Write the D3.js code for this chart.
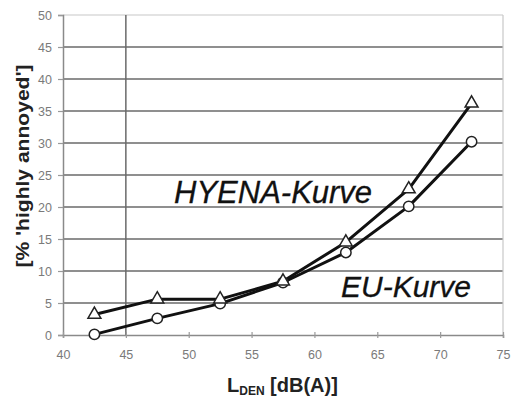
<!DOCTYPE html>
<html>
<head>
<meta charset="utf-8">
<script src="https://cdn.jsdelivr.net/npm/d3@7"></script>
<style>
  html, body { margin: 0; padding: 0; background: #fff; }
  svg { display: block; font-family: "Liberation Sans", Arial, sans-serif; }
</style>
</head>
<body>
<svg id="chart" width="513" height="400"></svg>
<script>
// Noise level classes (L_DEN mid-points)
const levels = [42.5, 47.5, 52.5, 57.5, 62.5, 67.5, 72.5];
// % highly annoyed
const hyenaValues = [3.2, 5.6, 5.6, 8.4, 14.5, 22.8, 36.2];
const euValues = [0.1, 2.6, 4.9, 8.2, 12.9, 20.1, 30.2];
const xTicks = [40, 45, 50, 55, 60, 65, 70, 75];
const yTicks = [0, 5, 10, 15, 20, 25, 30, 35, 40, 45, 50];

(function () {
const svg = d3.select("#chart");
const plotLeft = 63, plotRight = 503, plotTop = 15, plotBottom = 335;

const x = d3.scaleLinear().domain([40, 75]).range([plotLeft, plotRight]);
const y = d3.scaleLinear().domain([0, 50]).range([plotBottom, plotTop]);

// horizontal grid
svg.append("g").selectAll("line").data(yTicks.filter(d => d > 0)).join("line")
  .attr("x1", plotLeft).attr("x2", plotRight)
  .attr("y1", d => y(d)).attr("y2", d => y(d))
  .attr("stroke", d => d === 50 ? "#c8c8c8" : "#6a6a6a")
  .attr("stroke-width", d => d === 50 ? 1.2 : 1.5);

// right frame
svg.append("line").attr("x1", plotRight).attr("x2", plotRight)
  .attr("y1", plotTop).attr("y2", plotBottom)
  .attr("stroke", "#c8c8c8").attr("stroke-width", 1.2);

// 45 dB reference line
svg.append("line").attr("x1", x(45)).attr("x2", x(45)).attr("y1", y(50)).attr("y2", plotBottom)
  .attr("stroke", "#6a6a6a").attr("stroke-width", 1.5);

// axes
const yAxis = svg.append("g").attr("transform", `translate(${plotLeft},0)`)
  .call(d3.axisLeft(y).tickValues(yTicks).tickSize(5).tickPadding(6));
const xAxis = svg.append("g").attr("transform", `translate(0,${plotBottom})`)
  .call(d3.axisBottom(x).tickValues(xTicks).tickSize(3).tickPadding(12));
[yAxis, xAxis].forEach(g => {
  g.select(".domain").attr("stroke", "#8a8a8a").attr("stroke-width", 1.5);
  g.selectAll(".tick line").attr("stroke", "#9a9a9a").attr("stroke-width", 1.2);
  g.selectAll(".tick text").attr("fill", "#7a7a7a")
    .style("font-family", "'Liberation Sans', Arial, sans-serif").style("font-size", "12.5px");
});
xAxis.selectAll(".tick line").attr("y1", -3);
yAxis.selectAll(".tick text").attr("dy", "0.35em");

// curves
const line = d3.line().x(d => x(d[0])).y(d => y(d[1]));
const hyena = levels.map((l, i) => [l, hyenaValues[i]]);
const eu = levels.map((l, i) => [l, euValues[i]]);

[eu, hyena].forEach(s => {
  svg.append("path").datum(s).attr("d", line)
    .attr("fill", "none").attr("stroke", "#111").attr("stroke-width", 3)
    .attr("stroke-linejoin", "round");
});

// markers
svg.append("g").selectAll("circle").data(eu).join("circle")
  .attr("cx", d => x(d[0])).attr("cy", d => y(d[1])).attr("r", 5.2)
  .attr("fill", "#fff").attr("stroke", "#222").attr("stroke-width", 1.5);
const tri = d3.symbol().type(d3.symbolTriangle).size(72);
svg.append("g").selectAll("path").data(hyena).join("path")
  .attr("d", tri)
  .attr("transform", d => `translate(${x(d[0])},${y(d[1])})`)
  .attr("fill", "#fff").attr("stroke", "#222").attr("stroke-width", 1.5);

// curve labels
svg.append("text").attr("x", 174).attr("y", 203)
  .attr("font-style", "italic").attr("font-size", 31).attr("fill", "#111")
  .attr("stroke", "#111").attr("stroke-width", 0.3)
  .text("HYENA-Kurve");
svg.append("text").attr("x", 341).attr("y", 297)
  .attr("font-style", "italic").attr("font-size", 30).attr("fill", "#111")
  .attr("stroke", "#111").attr("stroke-width", 0.3)
  .text("EU-Kurve");

// axis titles
svg.append("text").attr("transform", "translate(29,166) rotate(-90)")
  .attr("text-anchor", "middle").attr("font-weight", "bold").attr("font-size", 19)
  .attr("textLength", 203).attr("lengthAdjust", "spacingAndGlyphs")
  .attr("fill", "#222").text("[% 'highly annoyed']");

const xt = svg.append("text").attr("x", 227).attr("y", 392)
  .attr("font-weight", "bold").attr("font-size", 20)
  .attr("fill", "#222");
xt.append("tspan").text("L");
xt.append("tspan").attr("font-size", 12).attr("dy", 3).text("DEN");
xt.append("tspan").attr("dy", -3).text(" [dB(A)]");
})();
</script>
</body>
</html>
